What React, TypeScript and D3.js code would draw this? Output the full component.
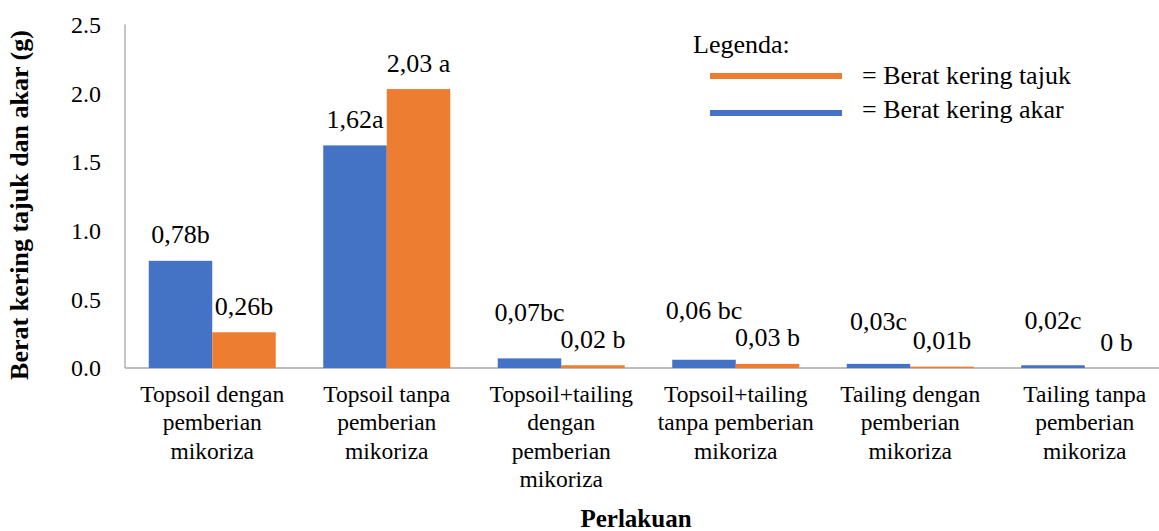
import React from "react";
import * as d3 from "d3";

const categories: string[][] = [
  ["Topsoil dengan", "pemberian", "mikoriza"],
  ["Topsoil tanpa", "pemberian", "mikoriza"],
  ["Topsoil+tailing", "dengan", "pemberian", "mikoriza"],
  ["Topsoil+tailing", "tanpa pemberian", "mikoriza"],
  ["Tailing dengan", "pemberian", "mikoriza"],
  ["Tailing tanpa", "pemberian", "mikoriza"],
];
const akarValues = [0.78, 1.62, 0.07, 0.06, 0.03, 0.02];
const tajukValues = [0.26, 2.03, 0.02, 0.03, 0.01, 0];
const akarLabels = ["0,78b", "1,62a", "0,07bc", "0,06 bc", "0,03c", "0,02c"];
const tajukLabels = ["0,26b", "2,03 a", "0,02 b", "0,03 b", "0,01b", "0 b"];
const yTicks = [0, 0.5, 1.0, 1.5, 2.0, 2.5];
const seriesKeys = ["akar", "tajuk"];

// layout-only nudges for the small akar labels (placed by hand in the original)
const akarLabelLift = [0, 0, 20, 23, 16, 19];

const W = 1159;
const H = 531;
const BLUE = "#4472C4";
const ORANGE = "#ED7D31";
const AXIS = "#A6A6A6";
const FONT = '"Liberation Serif", "Times New Roman", Times, serif';

export default function App() {
  const ids = categories.map((_, i) => String(i));
  const x0 = d3.scaleBand<string>().domain(ids).range([125, 1172]).padding(0);
  const x1 = d3
    .scaleBand<string>()
    .domain(seriesKeys)
    .range([0, x0.bandwidth()])
    .paddingInner(0)
    .paddingOuter(0.374);
  const y = d3.scaleLinear().domain([0, 2.5]).range([368, 24.5]);

  const series = [
    { key: "akar", values: akarValues, labels: akarLabels, color: BLUE },
    { key: "tajuk", values: tajukValues, labels: tajukLabels, color: ORANGE },
  ];

  const ts = { fontFamily: FONT };

  return (
    <svg
      width={W}
      height={H}
      style={{ position: "absolute", left: 0, top: 0, background: "#fff", fontFamily: FONT }}
    >
      <rect x={0} y={0} width={W} height={H} fill="#fff" />
      {/* axes */}
      <line x1={125} x2={125} y1={y(2.5)} y2={y(0)} stroke={AXIS} strokeWidth={1.3} />
      <line x1={125} x2={W} y1={y(0)} y2={y(0)} stroke={AXIS} strokeWidth={1.3} />
      {yTicks.map((t) => (
        <text
          key={t}
          x={101}
          y={y(t)}
          dy="0.35em"
          textAnchor="end"
          fontSize={24}
          fill="#000"
          style={ts}
        >
          {d3.format(".1f")(t)}
        </text>
      ))}

      {/* bars */}
      {series.map((s) =>
        s.values.map((v, i) => {
          const bx = (x0(ids[i]) as number) + (x1(s.key) as number);
          const bw = x1.bandwidth();
          return v > 0 ? (
            <rect
              key={s.key + i}
              x={bx}
              y={y(v)}
              width={bw}
              height={y(0) - y(v)}
              fill={s.color}
            />
          ) : null;
        })
      )}

      {/* data labels */}
      {series.map((s) =>
        s.values.map((v, i) => {
          const bx = (x0(ids[i]) as number) + (x1(s.key) as number);
          const bw = x1.bandwidth();
          const lift = s.key === "akar" ? akarLabelLift[i] : 0;
          return (
            <text
              key={"l" + s.key + i}
              x={bx + bw / 2}
              y={y(v) - 17.5 - lift}
              textAnchor="middle"
              fontSize={26}
              fill="#000"
              style={ts}
            >
              {s.labels[i]}
            </text>
          );
        })
      )}

      {/* category labels */}
      {categories.map((lines, i) => {
        const cx = (x0(ids[i]) as number) + x0.bandwidth() / 2;
        return (
          <text key={"c" + i} textAnchor="middle" fontSize={23.5} fill="#000" style={ts}>
            {lines.map((ln, j) => (
              <tspan key={j} x={cx} y={401.7 + j * 28.5}>
                {ln}
              </tspan>
            ))}
          </text>
        );
      })}

      {/* axis titles */}
      <text
        x={636}
        y={527}
        textAnchor="middle"
        fontSize={25}
        fontWeight="bold"
        fill="#000"
        style={ts}
      >
        Perlakuan
      </text>
      <text
        transform="translate(28,205) rotate(-90)"
        textAnchor="middle"
        fontSize={26}
        fontWeight="bold"
        fill="#000"
        style={ts}
      >
        Berat kering tajuk dan akar (g)
      </text>

      {/* legend */}
      <text x={693} y={53.3} fontSize={26} fill="#000" style={ts}>
        Legenda:
      </text>
      <line x1={710} x2={842} y1={76} y2={76} stroke={ORANGE} strokeWidth={6} />
      <text x={862} y={84} fontSize={26} fill="#000" style={ts}>
        = Berat kering tajuk
      </text>
      <line x1={710} x2={842} y1={113} y2={113} stroke={BLUE} strokeWidth={6} />
      <text x={862} y={117.5} fontSize={26} fill="#000" style={ts}>
        = Berat kering akar
      </text>
    </svg>
  );
}
